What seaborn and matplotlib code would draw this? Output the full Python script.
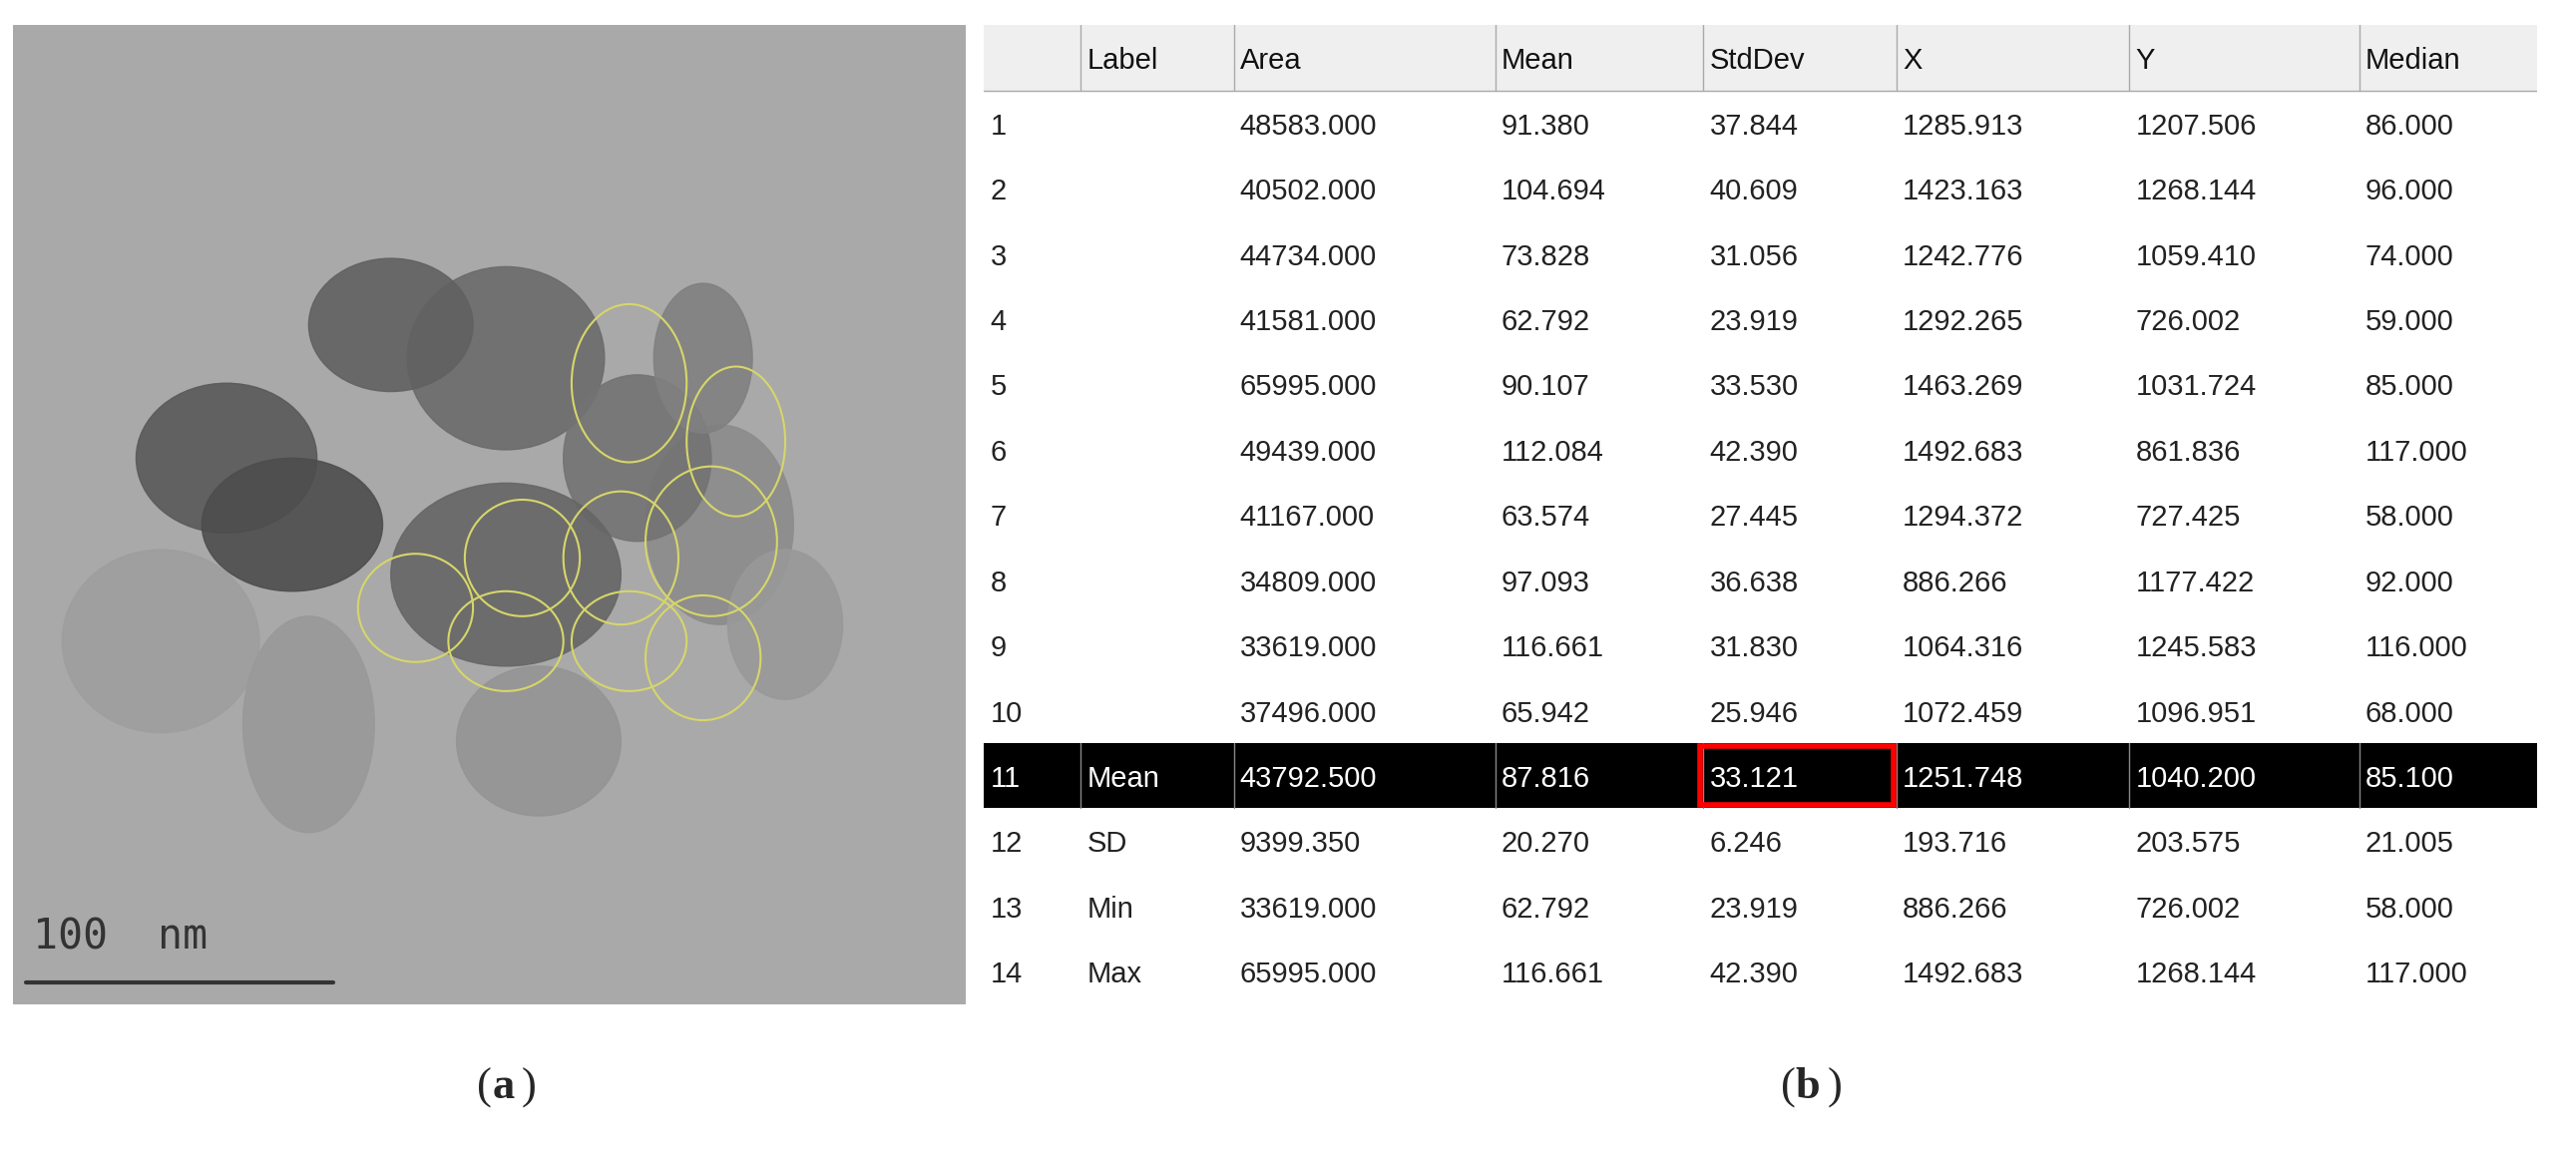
import numpy as np
import matplotlib
matplotlib.use("Agg")
import matplotlib.pyplot as plt
import seaborn as sns
from matplotlib.patches import Ellipse, Rectangle

sns.set_theme(style="white")
plt.rcParams['font.family'] = ['Liberation Sans', 'DejaVu Sans']

columns = ["", "Label", "Area", "Mean", "StdDev", "X", "Y", "Median"]
row_ids = [str(i) for i in range(1, 15)]
labels = [""] * 10 + ["Mean", "SD", "Min", "Max"]
area = ["48583.000", "40502.000", "44734.000", "41581.000", "65995.000", "49439.000", "41167.000",
        "34809.000", "33619.000", "37496.000", "43792.500", "9399.350", "33619.000", "65995.000"]
mean = ["91.380", "104.694", "73.828", "62.792", "90.107", "112.084", "63.574", "97.093", "116.661",
        "65.942", "87.816", "20.270", "62.792", "116.661"]
stddev = ["37.844", "40.609", "31.056", "23.919", "33.530", "42.390", "27.445", "36.638", "31.830",
          "25.946", "33.121", "6.246", "23.919", "42.390"]
xs = ["1285.913", "1423.163", "1242.776", "1292.265", "1463.269", "1492.683", "1294.372", "886.266",
      "1064.316", "1072.459", "1251.748", "193.716", "886.266", "1492.683"]
ys = ["1207.506", "1268.144", "1059.410", "726.002", "1031.724", "861.836", "727.425", "1177.422",
      "1245.583", "1096.951", "1040.200", "203.575", "726.002", "1268.144"]
median = ["86.000", "96.000", "74.000", "59.000", "85.000", "117.000", "58.000", "92.000", "116.000",
          "68.000", "85.100", "21.005", "58.000", "117.000"]
highlight_row = 10

fig = plt.figure(figsize=(25.82, 11.57), dpi=100)

# ---------- panel (a): schematic TEM image ----------
axa = fig.add_axes([0.005, 0.13, 0.37, 0.848])
axa.set_xlim(0, 580); axa.set_ylim(588, 0); axa.axis("off")
axa.add_patch(Rectangle((0, 0), 580, 588, color="#a9a9a9", zorder=0))
blobs = [(130, 260, 110, 90, 0.35), (300, 200, 120, 110, 0.42), (230, 180, 100, 80, 0.38),
         (90, 370, 120, 110, 0.62), (180, 420, 80, 130, 0.6), (320, 430, 100, 90, 0.58),
         (430, 300, 90, 120, 0.55), (470, 360, 70, 90, 0.6), (380, 260, 90, 100, 0.45),
         (300, 330, 140, 110, 0.4), (170, 300, 110, 80, 0.3), (420, 200, 60, 90, 0.5)]
for x, y, w, h, g in blobs:
    axa.add_patch(Ellipse((x, y), w, h, color=str(g), alpha=0.9, zorder=1))
rois = [(375, 215, 70, 95), (440, 250, 60, 90), (425, 310, 80, 90), (370, 320, 70, 80),
        (310, 320, 70, 70), (245, 350, 70, 65), (300, 370, 70, 60), (375, 370, 70, 60),
        (420, 380, 70, 75)]
for x, y, w, h in rois:
    axa.add_patch(Ellipse((x, y), w, h, fill=False, ec="#d6d66a", lw=1.5, zorder=2))
axa.plot([8, 195], [575, 575], color="#333333", lw=3, zorder=3)
axa.text(12, 555, "100  nm", fontsize=30, color="#333333", family="DejaVu Sans Mono", zorder=3)

# ---------- panel (b): table ----------
axb = fig.add_axes([0.382, 0.13, 0.603, 0.848])
bounds = [0, 58, 150, 307, 432, 548, 688, 826, 933]
nrows = 15
shade = np.zeros((nrows, 1))
shade[highlight_row + 1, 0] = 1
sns.heatmap(shade, ax=axb, cmap=["white", "black"], cbar=False, xticklabels=False,
            yticklabels=False, vmin=0, vmax=1)
axb.set_xlim(0, 1); axb.set_ylim(nrows, 0)
W = bounds[-1]
axb.add_patch(Rectangle((0, 0), 1, 1, color="#efefef", zorder=1))
for b in bounds[1:-1]:
    axb.plot([b / W, b / W], [0, 1], color="#aaaaaa", lw=1, zorder=2)
axb.plot([0, 1], [1, 1], color="#aaaaaa", lw=1, zorder=2)
for b in bounds[1:-1]:
    axb.plot([b / W, b / W], [highlight_row + 1, highlight_row + 2], color="#888888", lw=1, zorder=2)
for j, c in enumerate(columns):
    axb.text(bounds[j] / W + 0.004, 0.55, c, fontsize=21, va="center", color="#111111", zorder=3)
cols = [row_ids, labels, area, mean, stddev, xs, ys, median]
for i in range(14):
    col = "white" if i == highlight_row else "#222222"
    for j, data in enumerate(cols):
        axb.text(bounds[j] / W + 0.004, i + 1.55, data[i], fontsize=21, va="center",
                 color=col, zorder=3)
axb.add_patch(Rectangle((bounds[4] / W - 0.002, highlight_row + 1.05), (bounds[5] - bounds[4]) / W,
                        0.9, fill=False, ec="red", lw=4, zorder=4))
axb.axis("off")

fig.text(0.191, 0.048, "(", fontsize=32, ha="right", family="Liberation Serif")
fig.text(0.191, 0.048, "a", fontsize=32, ha="left", family="Liberation Serif", weight="bold")
fig.text(0.2025, 0.048, ")", fontsize=32, ha="left", family="Liberation Serif")
fig.text(0.697, 0.048, "(", fontsize=32, ha="right", family="Liberation Serif")
fig.text(0.697, 0.048, "b", fontsize=32, ha="left", family="Liberation Serif", weight="bold")
fig.text(0.7095, 0.048, ")", fontsize=32, ha="left", family="Liberation Serif")
fig.savefig("out.png", dpi=100, facecolor="white")
